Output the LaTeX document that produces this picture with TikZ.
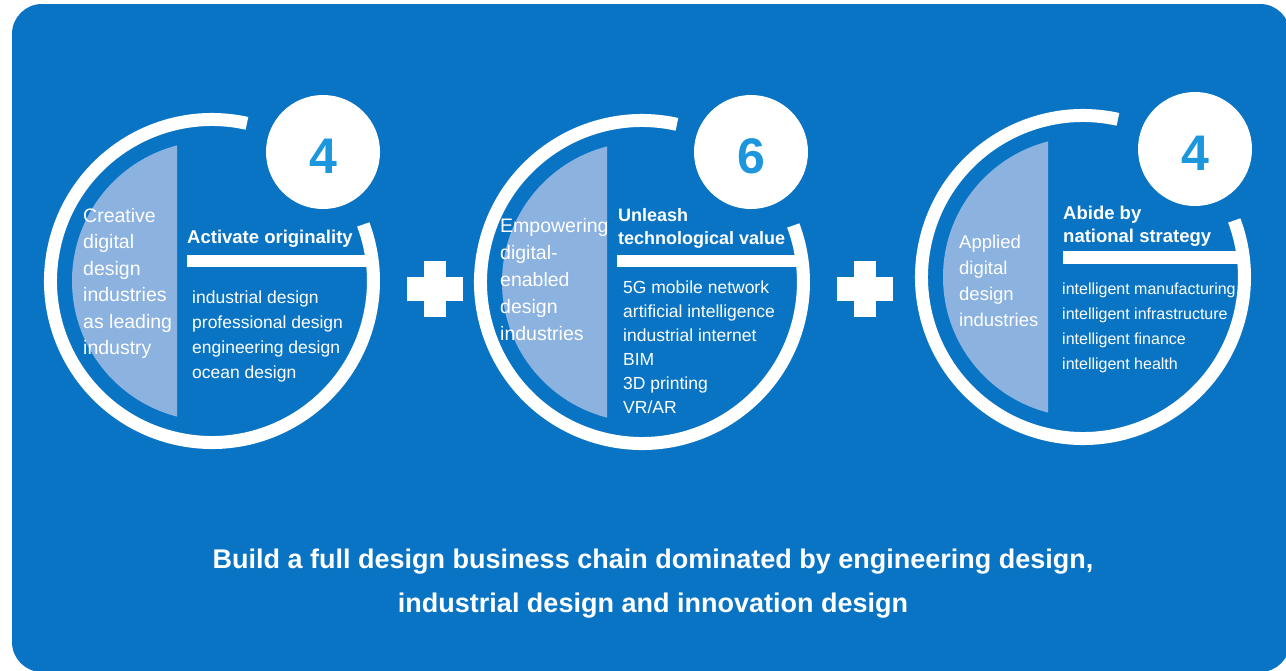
\documentclass[tikz,border=0pt]{standalone}
\usepackage{fontspec}
\setmainfont{Liberation Sans}
\definecolor{bgblue}{RGB}{10,116,196}
\definecolor{lightreg}{RGB}{140,178,224}
\definecolor{numblue}{RGB}{28,150,220}
\begin{document}
\begin{tikzpicture}[x=1pt,y=-1pt,
  ring/.style={draw=white,line width=13pt},
  numcirc/.style={circle,fill=white,minimum size=114pt,inner sep=0pt},
  numtxt/.style={text=numblue,inner sep=0pt,font=\fontsize{50}{50}\selectfont\bfseries},
  lefttxt/.style={anchor=base west,text=white,inner sep=0pt,align=left,font=\fontsize{19.5}{26.5}\selectfont},
  headtxt/.style={anchor=base west,text=white,inner sep=0pt,align=left,font=\fontsize{18.5}{23}\selectfont\bfseries},
  itemtxt/.style={anchor=base west,text=white,inner sep=0pt,align=left,font=\fontsize{17.5}{25}\selectfont},
  bottomtxt/.style={anchor=base,text=white,inner sep=0pt,font=\fontsize{27}{30}\selectfont\bfseries},
  plusbar/.style={fill=white}
]
\useasboundingbox (0,0) rectangle (1286,670);
\fill[white] (0,0) rectangle (1286,670);
\fill[bgblue,rounded corners=30pt] (12,4) rectangle (1290,672);

% ---------- circle 1 ----------
\begin{scope}[shift={(212,281)}]
  \begin{scope}
    \clip (-180,-180) rectangle (-35,180);
    \fill[lightreg] (0,0) circle[radius=140];
  \end{scope}
  \draw[ring] (-77.5:161.5) arc[start angle=-77.5,end angle=-380.5,radius=161.5];
  \fill[white] (-25,-26) rectangle (158,-14);
  \node[numcirc] (n1) at (111,-129) {};
  \node[numtxt] (d1) at (111,-125) {4};
  \node[lefttxt] (l1) at (-129,73.5) {Creative\\digital\\design\\industries\\as leading\\industry};
  \node[headtxt] (h1) at (-25,-38) {Activate originality};
  \node[itemtxt] (i1) at (-20,97) {industrial design\\professional design\\engineering design\\ocean design};
\end{scope}

% ---------- circle 2 ----------
\begin{scope}[shift={(642,282)}]
  \begin{scope}
    \clip (-180,-180) rectangle (-35,180);
    \fill[lightreg] (0,0) circle[radius=140];
  \end{scope}
  \draw[ring] (-77.5:161.5) arc[start angle=-77.5,end angle=-380.5,radius=161.5];
  \fill[white] (-25,-27) rectangle (158,-15);
  \node[numcirc] (n2) at (109,-130) {};
  \node[numtxt] (d2) at (109,-126) {6};
  \node[lefttxt,font=\fontsize{19.5}{27}\selectfont] (l2) at (-142,58) {Empowering\\digital-\\enabled\\design\\industries};
  \node[headtxt,font=\fontsize{18}{23}\selectfont\bfseries] (h2) at (-24,-38) {Unleash\\technological value};
  \node[itemtxt,font=\fontsize{17.5}{24}\selectfont] (i2) at (-19,131) {5G mobile network\\artificial intelligence\\industrial internet\\BIM\\3D printing\\VR/AR};
\end{scope}

% ---------- circle 3 ----------
\begin{scope}[shift={(1083,277)}]
  \begin{scope}
    \clip (-180,-180) rectangle (-35,180);
    \fill[lightreg] (0,0) circle[radius=140];
  \end{scope}
  \draw[ring] (-77.5:161.5) arc[start angle=-77.5,end angle=-380.5,radius=161.5];
  \fill[white] (-20,-26) rectangle (158,-13);
  \node[numcirc] (n3) at (112,-128) {};
  \node[numtxt] (d3) at (112,-124) {4};
  \node[lefttxt,font=\fontsize{18.5}{26}\selectfont] (l3) at (-124,49) {Applied\\digital\\design\\industries};
  \node[headtxt] (h3) at (-20,-35) {Abide by\\national strategy};
  \node[itemtxt,font=\fontsize{16}{25}\selectfont] (i3) at (-21,92) {intelligent manufacturing\\intelligent infrastructure\\intelligent finance\\intelligent health};
\end{scope}

% ---------- plus signs ----------
\fill[plusbar] (407,277) rectangle (463,301);
\fill[plusbar] (424,261) rectangle (446,317);
\fill[plusbar] (837,277) rectangle (893,301);
\fill[plusbar] (854,261) rectangle (876,317);

% ---------- bottom text ----------
\node[bottomtxt] (b1) at (653,568) {Build a full design business chain dominated by engineering design,};
\node[bottomtxt] (b2) at (653,612) {industrial design and innovation design};
\end{tikzpicture}
\end{document}
